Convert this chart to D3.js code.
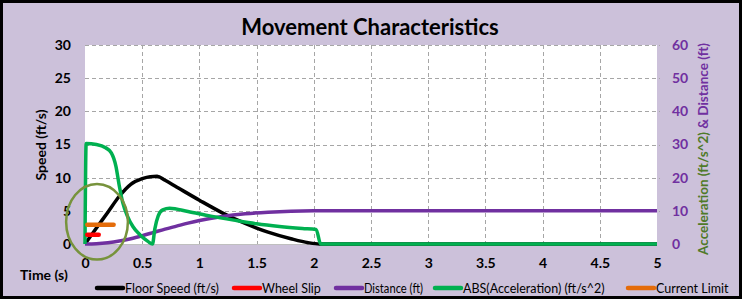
<!DOCTYPE html>
<html>
<head>
<meta charset="UTF-8">
<title>Movement Characteristics</title>
<style>
  html, body { margin: 0; padding: 0; background: #fff; }
  svg { display: block; font-family: Lato, "Open Sans", sans-serif; }
</style>
</head>
<body>
<div id="chart"></div>
<script src="https://d3js.org/d3.v7.min.js"></script>
<script>
// ---- data ----
var speedTicks = [0, 5, 10, 15, 20, 25, 30];
var rightTicks = [0, 10, 20, 30, 40, 50, 60];
var timeTicks = [0, 0.5, 1, 1.5, 2, 2.5, 3, 3.5, 4, 4.5, 5];

// floor speed (ft/s), left axis
var speedT = [0, 0.1, 0.2, 0.3, 0.4, 0.5, 0.57, 0.63, 0.7, 0.8, 1.0, 1.2, 1.4, 1.6, 1.8, 1.95, 2.05, 5];
var speedV = [0, 2.4, 4.8, 7.2, 9.0, 9.85, 10.15, 10.2, 9.6, 8.6, 6.6, 4.7, 3.1, 1.8, 0.8, 0.2, 0, 0];

// wheel slip (ft/s), left axis
var slipT = [0.02, 0.12];
var slipV = [1.4, 1.4];

// current limit, left axis
var limitT = [0.02, 0.25];
var limitV = [2.9, 2.9];

// distance (ft), right axis
var distT = [0, 0.1, 0.2, 0.3, 0.4, 0.5, 0.6, 0.7, 0.8, 0.9, 1.0, 1.2, 1.4, 1.6, 1.8, 2.0, 5];
var distV = [0, 0.1, 0.4, 0.9, 1.6, 2.5, 3.5, 4.5, 5.4, 6.3, 7.1, 8.3, 9.1, 9.6, 9.9, 10, 10];

// abs(acceleration) (ft/s^2), right axis
var accT = [0, 0.01, 0.1, 0.18, 0.23, 0.27, 0.30, 0.33, 0.37, 0.42, 0.48, 0.55, 0.59, 0.61, 0.64, 0.68, 0.74, 0.9, 1.1, 1.3, 1.5, 1.7, 1.9, 2.02, 2.06, 5];
var accV = [0, 30.3, 30.0, 29.0, 27.5, 23.5, 17.5, 12.5, 8.5, 5.2, 2.8, 0.8, 0, 4.5, 8.5, 10.3, 10.8, 9.8, 8.4, 7.2, 6.1, 5.3, 4.7, 4.4, 0, 0];

var legendNames = ["Floor Speed (ft/s)", "Wheel Slip", "Distance (ft)", "ABS(Acceleration) (ft/s^2)", "Current Limit"];
var legendColors = ["#000000", "#ff0000", "#7030a0", "#00b050", "#e46c0a"];

// ---- layout ----
var width = 742, height = 299;
var plot = { left: 85, right: 657, top: 45, bottom: 244 };
var legendStart = [96, 233, 335, 434, 627];

var svg = d3.select("#chart").append("svg")
  .attr("width", width)
  .attr("height", height);

svg.append("rect")
  .attr("x", 1.5).attr("y", 1.5)
  .attr("width", width - 3).attr("height", height - 3)
  .attr("fill", "#ccc1da")
  .attr("stroke", "#000")
  .attr("stroke-width", 3);

var x = d3.scaleLinear().domain([0, 5]).range([plot.left, plot.right]);
var yL = d3.scaleLinear().domain([0, 30]).range([plot.bottom, plot.top]);
var yR = d3.scaleLinear().domain([0, 60]).range([plot.bottom, plot.top]);

svg.append("rect")
  .attr("x", plot.left).attr("y", plot.top)
  .attr("width", plot.right - plot.left).attr("height", plot.bottom - plot.top)
  .attr("fill", "#fff");

// gridlines
svg.append("g").selectAll("line")
  .data(speedTicks.slice(1))
  .join("line")
  .attr("x1", plot.left).attr("x2", plot.right + 3)
  .attr("y1", function(d) { return Math.round(yL(d)) + 0.5; })
  .attr("y2", function(d) { return Math.round(yL(d)) + 0.5; })
  .attr("stroke", "#a6a6a6")
  .attr("stroke-dasharray", "4,3");

svg.append("g").selectAll("line")
  .data(timeTicks.slice(1, -1))
  .join("line")
  .attr("x1", function(d) { return Math.round(x(d)) + 0.5; })
  .attr("x2", function(d) { return Math.round(x(d)) + 0.5; })
  .attr("y1", plot.top).attr("y2", plot.bottom)
  .attr("stroke", "#a6a6a6")
  .attr("stroke-dasharray", "4,3");

svg.append("line")
  .attr("x1", plot.left).attr("x2", plot.right)
  .attr("y1", plot.bottom + 0.5).attr("y2", plot.bottom + 0.5)
  .attr("stroke", "#bfbfbf");

// axes (labels only, Excel style)
var axL = svg.append("g")
  .attr("transform", "translate(" + (plot.left - 14) + ",0)")
  .call(d3.axisLeft(yL).tickValues(speedTicks).tickSize(0));
var axR = svg.append("g")
  .attr("transform", "translate(" + (plot.right + 15) + ",0)")
  .call(d3.axisRight(yR).tickValues(rightTicks).tickSize(0));
var axB = svg.append("g")
  .attr("transform", "translate(0," + (plot.bottom + 14) + ")")
  .call(d3.axisBottom(x).tickValues(timeTicks).tickSize(0).tickFormat(d3.format("")));

[axL, axR, axB].forEach(function(a) {
  a.select(".domain").remove();
  a.selectAll("text")
    .attr("font-family", "Lato, 'Open Sans', sans-serif")
    .attr("font-size", 14)
    .attr("font-weight", "bold")
    .attr("fill", "#000");
});
axL.selectAll("text").attr("dx", 0).attr("x", 0);
axR.selectAll("text").attr("x", 0).attr("fill", "#7030a0");
axB.selectAll("text").attr("y", 0).attr("dy", "0.71em");

// titles
svg.append("text")
  .attr("x", 370).attr("y", 35)
  .attr("text-anchor", "middle")
  .attr("font-size", 22)
  .attr("font-weight", "bold")
  .text("Movement Characteristics");

svg.append("text")
  .attr("transform", "translate(46,145) rotate(-90)")
  .attr("text-anchor", "middle")
  .attr("font-size", 14)
  .attr("font-weight", "bold")
  .text("Speed (ft/s)");

var rt = svg.append("text")
  .attr("transform", "translate(708,149) rotate(-90)")
  .attr("text-anchor", "middle")
  .attr("font-size", 13.5)
  .attr("font-weight", "bold");
rt.append("tspan").attr("fill", "#4f7a28").text("Acceleration (ft/s^2)");
rt.append("tspan").attr("fill", "#7030a0").text(" & Distance (ft)");

svg.append("text")
  .attr("x", 20).attr("y", 280)
  .attr("font-size", 14)
  .attr("font-weight", "bold")
  .text("Time (s)");

// series
function pts(ts, vs) {
  return ts.map(function(t, i) { return [t, vs[i]]; });
}
var lineL = d3.line().x(function(d) { return x(d[0]); }).y(function(d) { return yL(d[1]); })
  .curve(d3.curveMonotoneX);
var lineR = d3.line().x(function(d) { return x(d[0]); }).y(function(d) { return yR(d[1]); })
  .curve(d3.curveMonotoneX);

var series = svg.append("g").attr("fill", "none").attr("stroke-linejoin", "round");

series.append("path")
  .attr("d", lineL(pts(speedT, speedV)))
  .attr("stroke", legendColors[0]).attr("stroke-width", 3.5);
series.append("path")
  .attr("d", lineR(pts(distT, distV)))
  .attr("stroke", legendColors[2]).attr("stroke-width", 3.5);
series.append("path")
  .attr("d", lineR(pts(accT, accV)))
  .attr("stroke", legendColors[3]).attr("stroke-width", 3.5);
series.append("path")
  .attr("d", lineL(pts(slipT, slipV)))
  .attr("stroke", legendColors[1]).attr("stroke-width", 4.5)
  .attr("stroke-linecap", "round");
series.append("path")
  .attr("d", lineL(pts(limitT, limitV)))
  .attr("stroke", legendColors[4]).attr("stroke-width", 4.5)
  .attr("stroke-linecap", "round");

// annotation ellipse around the start region
var ringCenter = [0.105, 3.35], ringRadius = [0.27, 5.7];
svg.append("ellipse")
  .attr("cx", x(ringCenter[0]))
  .attr("cy", yL(ringCenter[1]))
  .attr("rx", x(ringRadius[0]) - x(0))
  .attr("ry", yL(0) - yL(ringRadius[1]))
  .attr("fill", "none")
  .attr("stroke", "#77933c")
  .attr("stroke-width", 2.5);

// legend
var legend = svg.append("g").attr("transform", "translate(0,288)");
legendNames.forEach(function(name, i) {
  var g = legend.append("g").attr("transform", "translate(" + legendStart[i] + ",0)");
  g.append("line")
    .attr("x1", 1).attr("x2", 27)
    .attr("stroke", legendColors[i])
    .attr("stroke-width", 4.5)
    .attr("stroke-linecap", "round");
  var t = g.append("text")
    .attr("x", 29).attr("y", 4.5)
    .attr("font-size", 12.5)
    .text(name);
  var room = (i < legendNames.length - 1 ? legendStart[i + 1] - legendStart[i] - 40 : 735 - legendStart[i] - 29);
  if (t.node().getComputedTextLength() > room) {
    t.attr("textLength", room).attr("lengthAdjust", "spacingAndGlyphs");
  }
});
</script>
</body>
</html>
